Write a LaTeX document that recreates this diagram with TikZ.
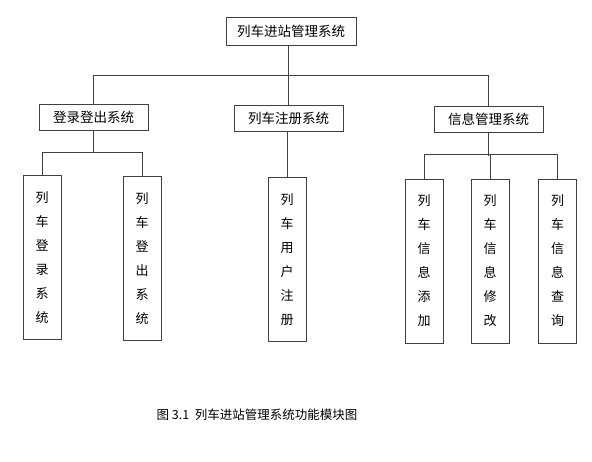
\documentclass[tikz,border=0pt]{standalone}
\usepackage{fontspec}
\setmainfont{Noto Sans CJK SC}

\begin{document}
\begin{tikzpicture}[x=1pt, y=-1pt,
        box/.style={draw=black!75, line width=0.9pt, inner sep=0pt,
            font=\fontsize{13.5}{15}\selectfont},
        vbox/.style={box, minimum width=38pt, minimum height=164pt,
            align=center, font=\fontsize{13}{24}\selectfont},
        link/.style={draw=black!75, line width=0.9pt}]
        \useasboundingbox (0,0) rectangle (592,461);
        % Root
        \node[box, minimum width=130pt, minimum height=28pt] (Root) at (291,31) {列车进站管理系统};
        % Subsystems
        \foreach \name/\x/\y/\txt in {Sys-1/93.5/117/登录登出系统, Sys-2/288.5/118/列车注册系统, Sys-3/488.5/119.5/信息管理系统} {
            \node[box, minimum width=109pt, minimum height=26pt] (\name) at (\x,\y) {\txt};
        }
        % Modules
        \foreach \name/\x/\y/\txt in {
            Mod-1/42/257.5/{列\\车\\登\\录\\系\\统},
            Mod-2/142/258.5/{列\\车\\登\\出\\系\\统},
            Mod-3/287/259.5/{列\\车\\用\\户\\注\\册},
            Mod-4/424/261/{列\\车\\信\\息\\添\\加},
            Mod-5/490/261/{列\\车\\信\\息\\修\\改},
            Mod-6/557.5/261/{列\\车\\信\\息\\查\\询}} {
            \node[vbox] (\name) at (\x,\y) {\txt};
        }
        % Connect Root-Sys
        \draw[link] (Sys-2.north) -- (Sys-2.north |- Root.south);
        \draw[link] (Sys-1.north) -- ++(0,-28) -| (Sys-3.north);
        % Connect Sys-Mod
        \draw[link] (Sys-1.south) -- ++(0,23);
        \draw[link] (Mod-1.north) -- ++(0,-23) -| (Mod-2.north);
        \draw[link] (Mod-3.north) -- (Mod-3.north |- Sys-2.south);
        \draw[link] (Sys-3.south) -- ++(0,23);
        \draw[link] (Mod-4.north) -- ++(0,-24) -| (Mod-6.north);
        \draw[link] (Mod-5.north) -- ++(0,-24);
        % Caption
        \node[font=\fontsize{12.5}{14}\selectfont] (Caption) at (257,415) {图 3.1\ \ 列车进站管理系统功能模块图};
    \end{tikzpicture}
\end{document}
